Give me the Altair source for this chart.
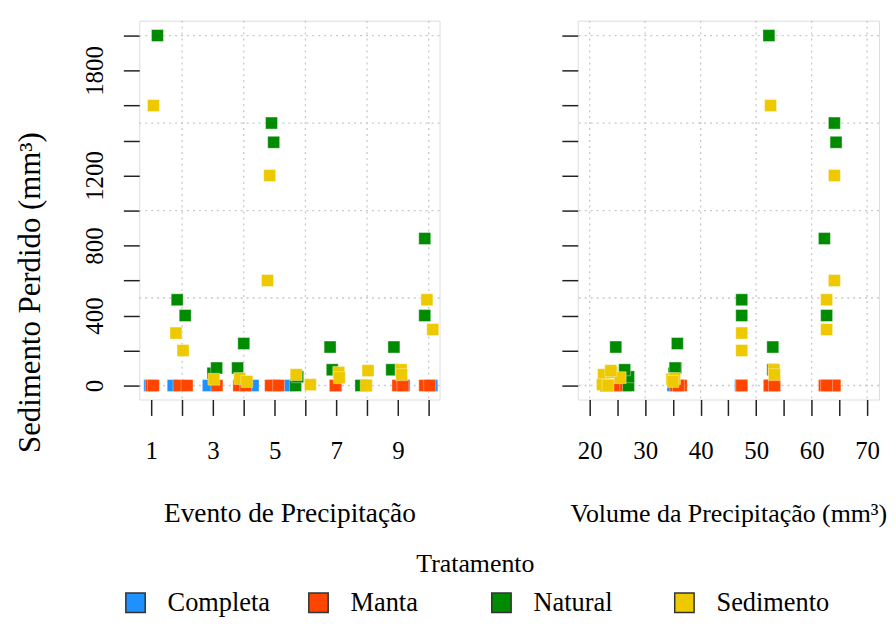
import altair as alt
import pandas as pd

FONT = "Liberation Serif"

tratamentos = ["Completa", "Manta", "Natural", "Sedimento"]
cores = ["#1E90FF", "#FF4500", "#008B00", "#EEC900"]

# jittered event number, jittered precipitation volume, sediment lost
completa_evento = [0.95, 1.71, 2.85, 4.3, 5.0, 5.5, 7.0, 7.95, 9.2, 10.1]
completa_volume = [52.4, 47.2, 35.0, 36.0, 64.0, 23.0, 24.5, 23.5, 53.0, 62.6]
completa_sed = [0, 0, 0, 0, 0, 0, 0, 0, 0, 0]

manta_evento = [1.0, 1.07, 1.9, 2.16, 3.13, 3.84, 4.06, 4.87, 5.13, 6.97, 7.97, 9.0, 9.16, 9.87, 10.03]
manta_volume = [52.4, 53.3, 47.4, 47.4, 36.5, 35.5, 36.0, 64.0, 64.2, 24.6, 26.5, 52.4, 53.3, 62.3, 62.7]
manta_sed = [0, 0, 0, 0, 0, 0, 0, 0, 0, 0, 0, 0, 0, 0, 0]

natural_evento = [1.2, 1.84, 2.1, 3.0, 3.12, 3.8, 4.0, 4.9, 4.97, 5.68, 5.75, 6.8, 6.87, 7.8, 8.8, 8.87, 9.87, 9.87]
natural_volume = [52.3, 47.4, 47.4, 35.2, 35.5, 35.4, 35.8, 64.1, 64.4, 27.0, 27.0, 24.7, 26.3, 23.0, 53.0, 53.0, 62.3, 62.7]
natural_sed = [2000, 490, 400, 70, 100, 100, 240, 1500, 1390, 0, 50, 220, 90, 0, 90, 220, 840, 400]

sedimento_evento = [1.07, 1.8, 2.03, 3.03, 3.87, 4.1, 4.84, 4.77, 5.7, 6.16, 7.08, 7.1, 8.03, 7.97, 9.1, 9.12, 9.94, 10.13]
sedimento_volume = [52.6, 47.4, 47.4, 34.8, 35.3, 35.0, 64.1, 64.1, 22.5, 22.3, 24.0, 25.5, 23.8, 23.3, 53.2, 53.3, 62.7, 62.7]
sedimento_sed = [1600, 300, 200, 36, 40, 23, 1200, 600, 62, 5, 75, 45, 85, 0, 90, 62, 490, 320]

# axis ticks / grid
y_ticks = [0, 200, 400, 600, 800, 1000, 1200, 1400, 1600, 1800, 2000]
y_labels = [0, 400, 800, 1200, 1800]
y_grid = [0, 500, 1000, 1500, 2000]
ev_ticks = [1, 2, 3, 4, 5, 6, 7, 8, 9, 10]
ev_grid = [2, 4, 6, 8, 10]
vol_ticks = [20, 25, 30, 35, 40, 45, 50, 55, 60, 65, 70]
vol_grid = [20, 30, 40, 50, 60, 70]

rows = []
for t, ev, vol, sed in [
    ("Completa", completa_evento, completa_volume, completa_sed),
    ("Manta", manta_evento, manta_volume, manta_sed),
    ("Natural", natural_evento, natural_volume, natural_sed),
    ("Sedimento", sedimento_evento, sedimento_volume, sedimento_sed),
]:
    for e, v, s in zip(ev, vol, sed):
        rows.append({"Tratamento": t, "evento": e, "volume": v, "sed": s})
df = pd.DataFrame(rows)
df["ordem"] = df.index

W, H = 302, 381
YDOM = [-80, 2085]
EV_DOM = [0.61, 10.35]
VOL_DOM = [17.85, 72.15]
TICK = 16
lab_list = ",".join(str(v) for v in y_labels)

y_scale = alt.Scale(domain=YDOM, nice=False, zero=False)
ev_scale = alt.Scale(domain=EV_DOM, nice=False, zero=False)
vol_scale = alt.Scale(domain=VOL_DOM, nice=False, zero=False)

color = alt.Color(
    "Tratamento:N",
    scale=alt.Scale(domain=tratamentos, range=cores),
    legend=alt.Legend(
        title="Tratamento", orient="none", direction="horizontal", columns=4,
        legendX=-17, legendY=533, titleAnchor="middle", titleFont=FONT,
        titleFontSize=26, titleFontWeight="normal", titleColor="#000000",
        titlePadding=13, labelFont=FONT, labelFontSize=26.5, labelColor="#000000",
        symbolType="square", symbolSize=380, symbolStrokeColor="#333333",
        symbolStrokeWidth=1.5, symbolOpacity=1, labelOffset=19,
        columnPadding=25, gridAlign="all", labelLimit=400,
    ),
)


def y_axis(show_labels):
    kw = dict(
        values=y_ticks, tickSize=TICK, tickWidth=1.5, tickColor="#222222",
        domain=False, grid=False, labels=show_labels,
    )
    if show_labels:
        kw.update(
            labelExpr="indexof([" + lab_list + "], datum.value) >= 0 ? format(datum.value, 'd') : ''",
            labelOverlap=False, labelAngle=270, labelAlign="center", labelBaseline="middle",
            labelPadding=29, labelFont=FONT, labelFontSize=25, labelColor="#000000",
            title="Sedimento Perdido (mm³)", titleFont=FONT, titleFontSize=31,
            titleFontWeight="normal", titleColor="#000000", titleAngle=270,
            titleAlign="center", titleBaseline="middle", titleX=-109, titleY=273,
            titleLimit=500,
        )
    else:
        kw.update(title=None)
    return alt.Axis(**kw)


def x_axis(values, expr, title, tsize):
    return alt.Axis(
        values=values, labelExpr=expr, labelOverlap=False, tickSize=TICK, tickWidth=1.5,
        tickColor="#222222", domain=False, grid=False, labelFont=FONT,
        labelFontSize=25, labelColor="#000000", labelBaseline="middle",
        labelPadding=35, labelAngle=0, title=title, titleFont=FONT,
        titleFontSize=tsize, titleFontWeight="normal", titleColor="#000000",
        titleBaseline="middle", titleY=115, titleLimit=500,
    )


def panel(xfield, xscale, xaxis, yaxis, xgrid):
    gx = alt.Chart(pd.DataFrame({xfield: xgrid})).mark_rule(
        color="#C8C8C8", strokeDash=[2, 4], strokeWidth=1.3
    ).encode(x=alt.X(f"{xfield}:Q", scale=xscale, axis=xaxis))
    gy = alt.Chart(pd.DataFrame({"sed": y_grid})).mark_rule(
        color="#C8C8C8", strokeDash=[2, 4], strokeWidth=1.3
    ).encode(y=alt.Y("sed:Q", scale=y_scale, axis=yaxis))
    pts = alt.Chart(df).mark_point(
        shape="square", filled=True, size=144, opacity=1,
        stroke="#ffffff", strokeWidth=0.6, strokeOpacity=0.6,
    ).encode(
        x=alt.X(f"{xfield}:Q", scale=xscale, axis=xaxis),
        y=alt.Y("sed:Q", scale=y_scale, axis=yaxis),
        color=color,
        order=alt.Order("ordem:Q"),
    )
    return alt.layer(gx, gy, pts)


left = panel(
    "evento", ev_scale,
    x_axis(ev_ticks, "datum.value % 2 == 1 ? datum.label : ''", "Evento de Precipitação", 27.5),
    y_axis(True), ev_grid,
).properties(width=W, height=H)

right = panel(
    "volume", vol_scale,
    x_axis(vol_ticks, "datum.value % 10 == 0 ? datum.label : ''", "Volume da Precipitação (mm³)", 26),
    y_axis(False), vol_grid,
).properties(width=W + 1, height=H)

chart = alt.hconcat(left, right, spacing=119).properties(
    padding={"left": 6, "top": 9, "right": 0, "bottom": 0}
).configure_view(
    stroke="#000000", strokeWidth=1.6
).configure(background="white")

chart.save("out.html", embed_options={"renderer": "svg", "actions": False})
